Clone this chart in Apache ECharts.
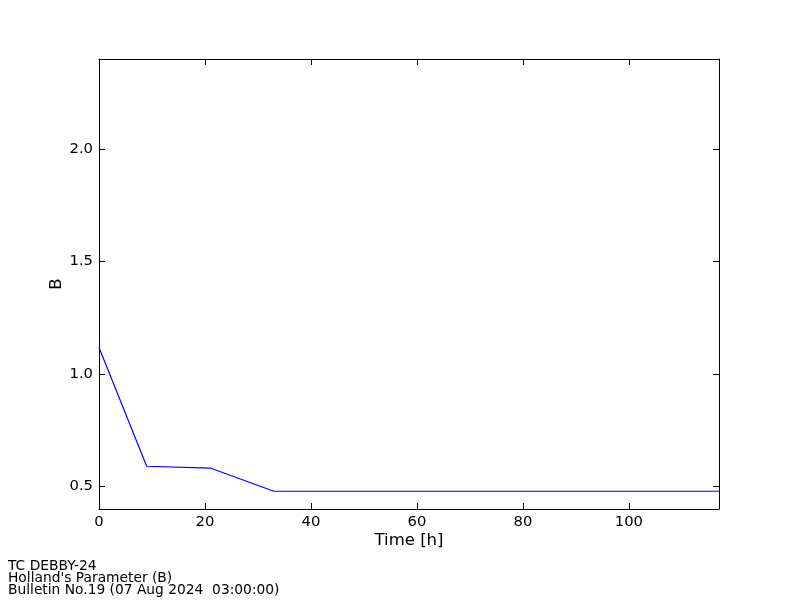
<!DOCTYPE html>
<html><head><meta charset="utf-8">
<script src="https://cdn.jsdelivr.net/npm/echarts@6/dist/echarts.min.js"></script>
<style>html,body{margin:0;padding:0;background:#fff}#c{width:800px;height:600px}</style>
</head><body><div id="c"></div>
<script>
const hours = [0, 9, 21, 33, 45, 57, 69, 81, 93, 105, 117];
const bValues = [1.118, 0.590, 0.582, 0.479, 0.479, 0.479, 0.479, 0.479, 0.479, 0.479, 0.479];
const yTicks = [0.5, 1.0, 1.5, 2.0];
const xTicks = [0, 20, 40, 60, 80, 100];
const footerLines = ["TC DEBBY-24", "Holland's Parameter (B)", "Bulletin No.19 (07 Aug 2024  03:00:00)"];

const font = 'DejaVu Sans';
const chart = echarts.init(document.getElementById('c'));
const axisLine = () => ({show: true, onZero: false, lineStyle: {color: '#000', width: 1}});
const tick = {show: true, inside: true, length: 6, lineStyle: {color: '#000', width: 1}};
chart.setOption({
  animation: false,
  backgroundColor: '#fff',
  grid: {left: 99, right: 81, top: 59, bottom: 91, containLabel: false},
  xAxis: [
    {type: 'value', min: 0, max: 117, position: 'bottom',
     name: 'Time [h]', nameLocation: 'middle', nameGap: 23, nameMoveOverlap: false,
     nameTextStyle: {fontFamily: font, fontSize: 16.5, color: '#000'},
     axisLine: axisLine(), axisTick: Object.assign({}, tick, {customValues: xTicks}),
     axisLabel: {customValues: xTicks, fontFamily: font, fontSize: 14.8, color: '#000', margin: 6},
     splitLine: {show: false}},
    {type: 'value', min: 0, max: 117, position: 'top',
     axisLine: axisLine(), axisTick: Object.assign({}, tick, {customValues: xTicks}),
     axisLabel: {show: false}, splitLine: {show: false}}
  ],
  yAxis: [
    {type: 'value', min: 0.4, max: 2.4, position: 'left',
     name: 'B', nameLocation: 'middle', nameGap: 34, nameMoveOverlap: false,
     nameTextStyle: {fontFamily: font, fontSize: 16.5, color: '#000'},
     axisLine: axisLine(), axisTick: Object.assign({}, tick, {customValues: yTicks}),
     axisLabel: {customValues: yTicks, formatter: v => v.toFixed(1), fontFamily: font, fontSize: 14.8, color: '#000', margin: 6},
     splitLine: {show: false}},
    {type: 'value', min: 0.4, max: 2.4, position: 'right',
     axisLine: axisLine(), axisTick: Object.assign({}, tick, {customValues: yTicks}),
     axisLabel: {show: false}, splitLine: {show: false}}
  ],
  series: [{
    type: 'line', data: hours.map((h, i) => [h, bValues[i]]),
    symbol: 'none', lineStyle: {color: '#0000ff', width: 1.2}, xAxisIndex: 0, yAxisIndex: 0
  }],
  graphic: footerLines.map((t, i) => ({
    type: 'text', left: 8, top: 559 + i * 12,
    style: {text: t, fontFamily: font, fontSize: 13.8, fill: '#000'}
  }))
});
</script></body></html>
